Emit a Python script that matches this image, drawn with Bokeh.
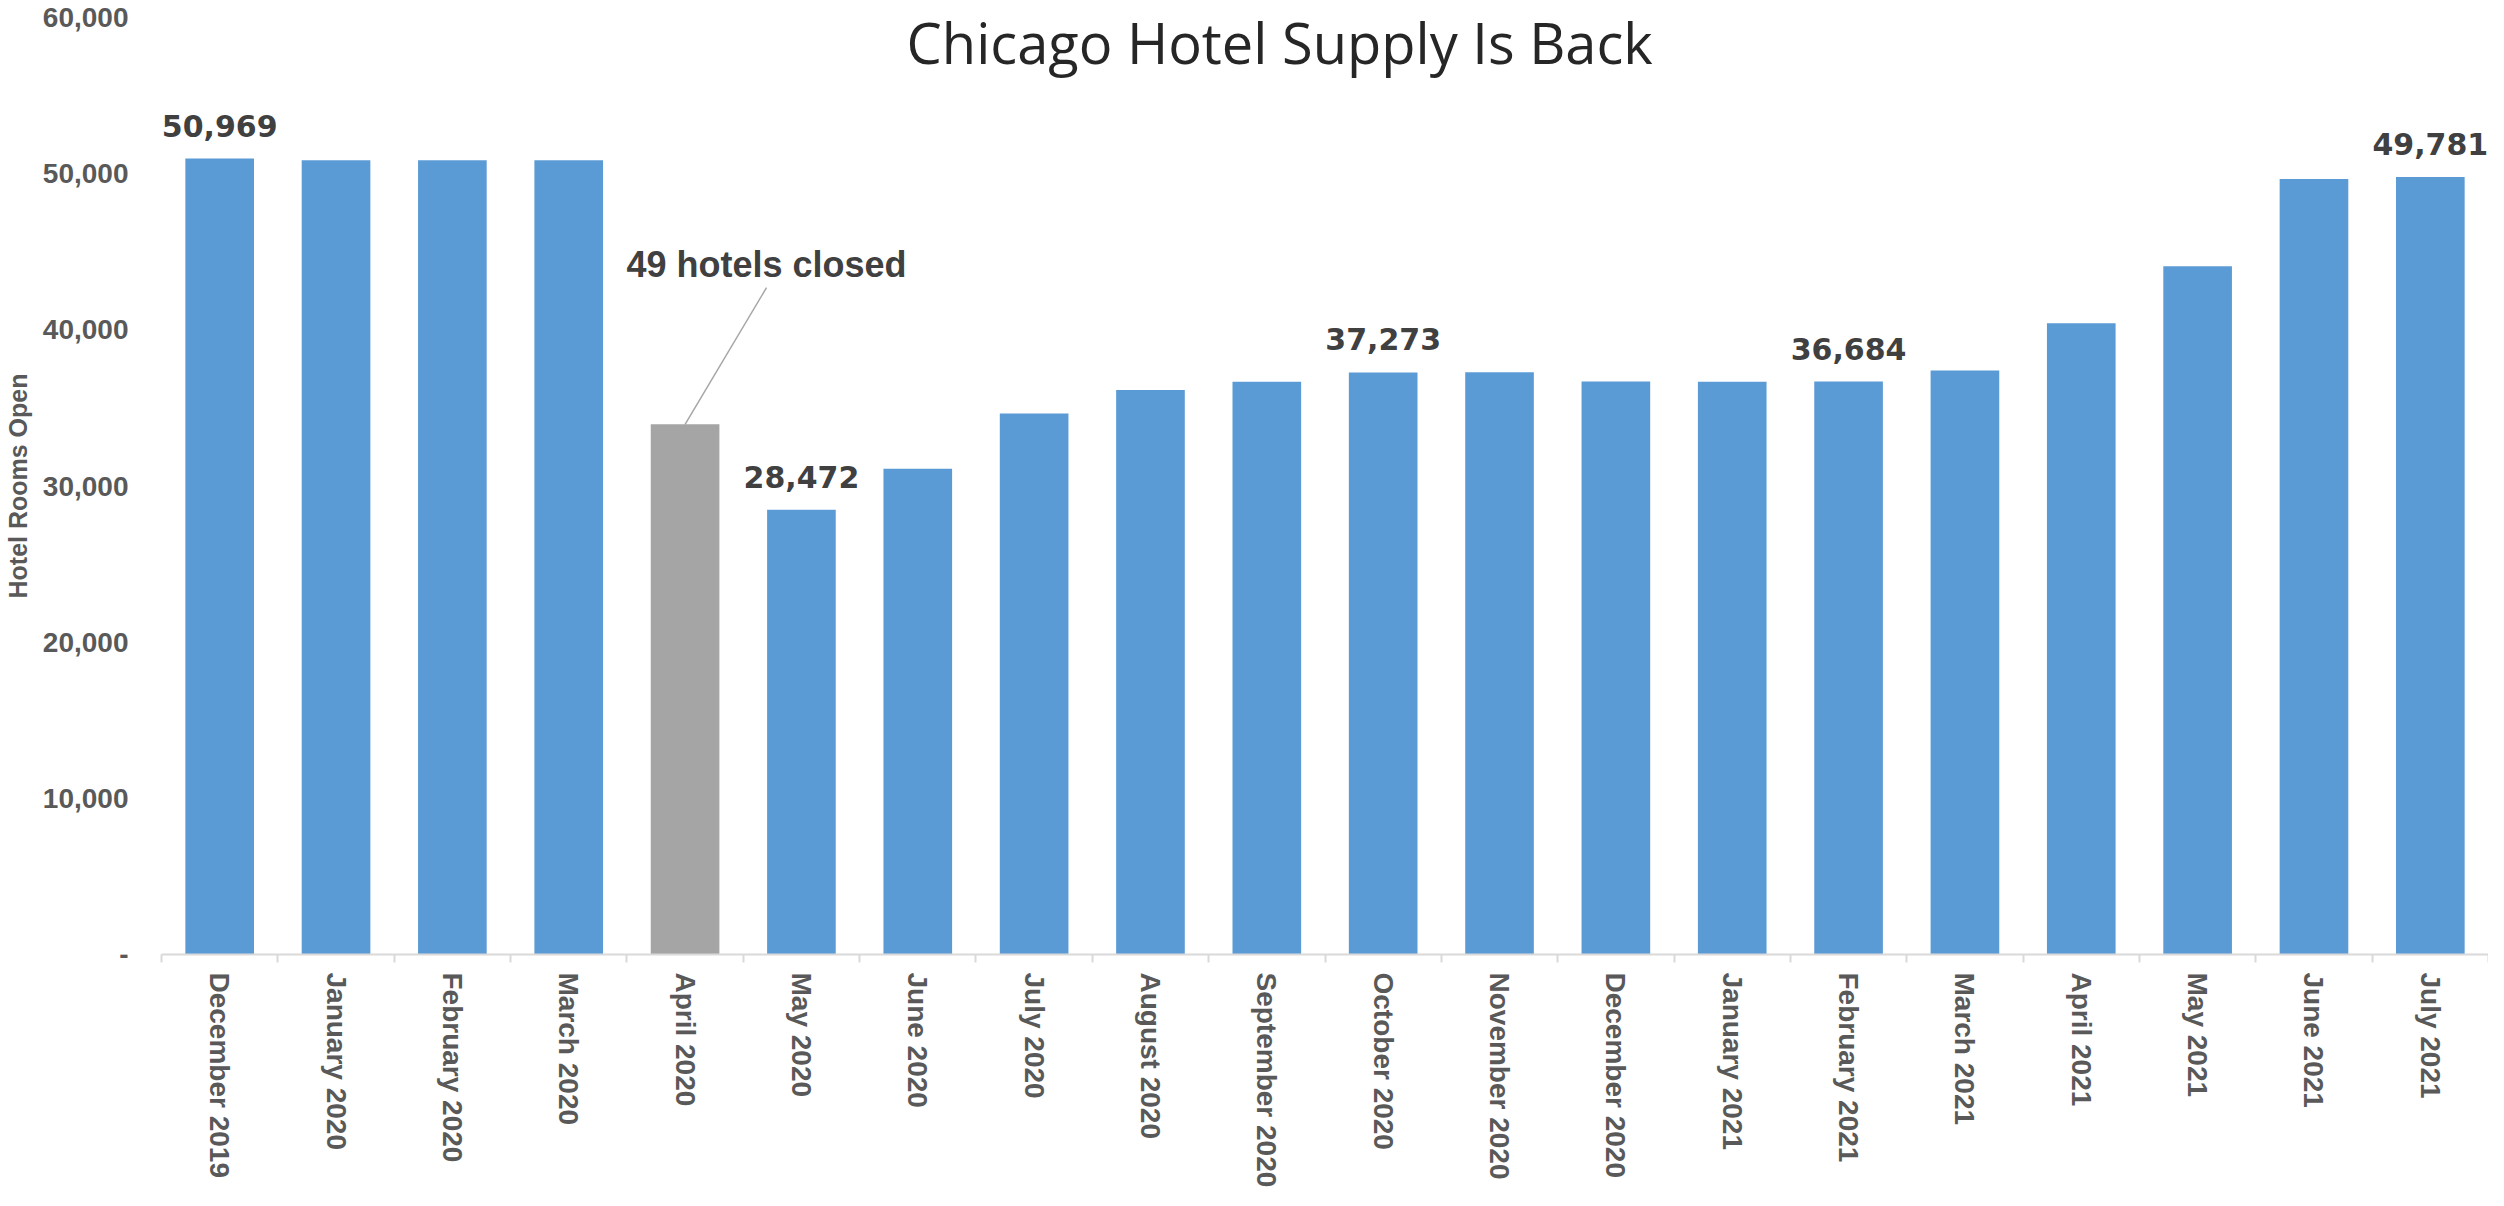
import numpy as np
from bokeh.plotting import figure
from bokeh.models import (ColumnDataSource, Range1d, FixedTicker,
                          NumeralTickFormatter, LabelSet, Label)
from bokeh.core.properties import value
from bokeh.embed import file_html
from bokeh.resources import INLINE

# ---------------- data ----------------
months = ["December 2019", "January 2020", "February 2020", "March 2020",
          "April 2020", "May 2020", "June 2020", "July 2020", "August 2020",
          "September 2020", "October 2020", "November 2020", "December 2020",
          "January 2021", "February 2021", "March 2021", "April 2021",
          "May 2021", "June 2021", "July 2021"]
rooms = [50969, 50860, 50860, 50860, 33950, 28472, 31100, 34650, 36150,
         36670, 37273, 37280, 36690, 36680, 36684, 37400, 40420, 44070,
         49660, 49781]
labeled_months = ["December 2019", "May 2020", "October 2020",
                  "February 2021", "July 2021"]
highlight_month = "April 2020"
y_ticks = [0, 10000, 20000, 30000, 40000, 50000, 60000]
title_text = "Chicago Hotel Supply Is Back"
y_title = "Hotel Rooms Open"
note_text = "49 hotels closed"

# ---------------- styling constants ----------------
BLUE = "#5b9bd5"
GREY = "#a5a5a5"
AXIS_TXT = "#595959"
LABEL_TXT = "#404040"
ARIAL = "Liberation Sans"
WIDE = "DejaVu Sans"

n = len(months)
xc = [i + 0.5 for i in range(n)]
colors = [GREY if m == highlight_month else BLUE for m in months]
src = ColumnDataSource(dict(x=xc, rooms=rooms, month=months, color=colors))

lab_idx = [months.index(m) for m in labeled_months]
lab_src = ColumnDataSource(dict(
    x=[xc[i] for i in lab_idx],
    y=[rooms[i] for i in lab_idx],
    text=["{:,}".format(rooms[i]) for i in lab_idx]))

p = figure(width=2488, height=1190, output_backend="svg",
           toolbar_location=None,
           x_range=Range1d(0, n), y_range=Range1d(0, y_ticks[-1]),
           min_border_left=157, min_border_right=0, min_border_top=17,
           min_border_bottom=0)
p.outline_line_color = None
p.xgrid.visible = False
p.ygrid.visible = False
p.background_fill_color = "white"
p.border_fill_color = "white"

p.vbar(x="x", top="rooms", bottom=0, width=0.59, fill_color="color",
       line_color=None, source=src)

# x axis
xa = p.xaxis[0]
xa.ticker = FixedTicker(ticks=xc, minor_ticks=list(range(n + 1)))
xa.major_label_overrides = {float(v): m for v, m in zip(xc, months)}
xa.major_label_orientation = "vertical"
xa.axis_line_color = "#d9d9d9"
xa.axis_line_width = 2
xa.major_tick_line_color = None
xa.major_tick_out = 0
xa.major_tick_in = 0
xa.minor_tick_line_color = "#d9d9d9"
xa.minor_tick_line_width = 2
xa.minor_tick_out = 8
xa.minor_tick_in = 0
xa.major_label_standoff = 10
xa.major_label_text_font = ARIAL
xa.major_label_text_font_style = "bold"
xa.major_label_text_font_size = "28px"
xa.major_label_text_color = AXIS_TXT

# y axis
ya = p.yaxis[0]
ya.ticker = FixedTicker(ticks=y_ticks)
ya.formatter = NumeralTickFormatter(format="0,0")
ya.major_label_overrides = {0: "-"}
ya.axis_line_color = None
ya.major_tick_line_color = None
ya.minor_tick_line_color = None
ya.major_tick_out = 0
ya.major_tick_in = 0
ya.major_label_standoff = 33
ya.major_label_text_font = ARIAL
ya.major_label_text_font_style = "bold"
ya.major_label_text_font_size = "28px"
ya.major_label_text_color = AXIS_TXT
ya.axis_label = y_title
ya.axis_label_standoff = 8
ya.axis_label_text_font = ARIAL
ya.axis_label_text_font_style = "bold"
ya.axis_label_text_font_size = "25px"
ya.axis_label_text_color = AXIS_TXT

# data labels
p.add_layout(LabelSet(x="x", y="y", text="text", source=lab_src,
                      text_align="center", text_baseline="alphabetic",
                      y_offset=22, text_font=value(WIDE),
                      text_font_style="bold", text_font_size="30px",
                      text_color=LABEL_TXT))

# annotation for April 2020
ai = months.index(highlight_month)
note_x, note_y = 5.2, 44200
p.segment(x0=[note_x], y0=[note_y - 1500], x1=[xc[ai]], y1=[rooms[ai]],
          line_color="#a6a6a6", line_width=1.5)
p.add_layout(Label(x=note_x, y=note_y, text=note_text, text_align="center",
                   text_baseline="middle", text_font=ARIAL,
                   text_font_style="bold", text_font_size="36px",
                   text_color=LABEL_TXT))

# chart title
p.add_layout(Label(x=9.61, y=58400, text=title_text, text_align="center",
                   text_baseline="alphabetic", text_font="Open Sans",
                   text_font_size="56px", text_color="#262626"))

open("out.html", "w").write(file_html(p, INLINE))
